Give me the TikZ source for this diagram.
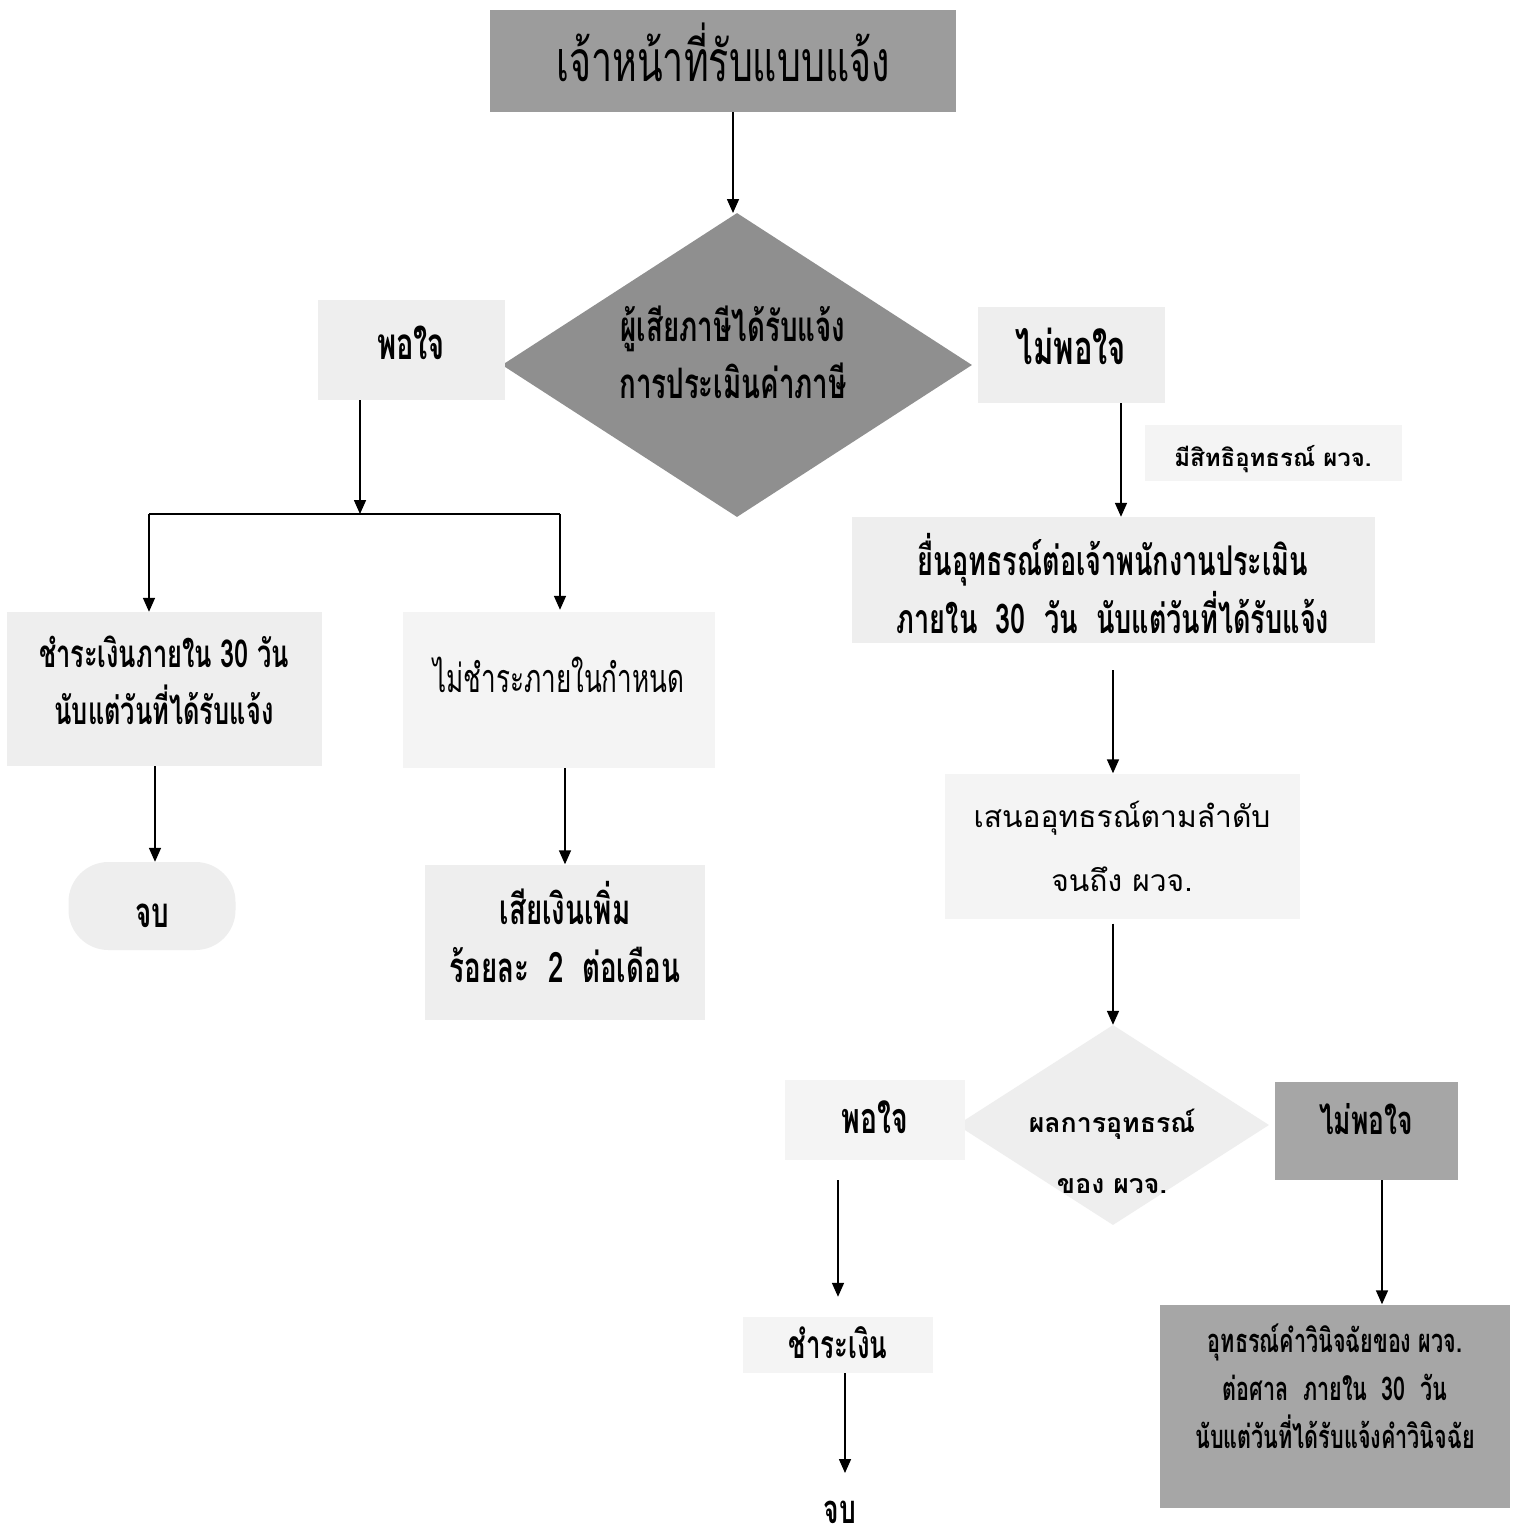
\documentclass[tikz,border=0pt]{standalone}
\usepackage{fontspec}
\usetikzlibrary{arrows.meta,shapes.geometric}
\newfontfamily\thC[Script=Thai,FakeStretch=0.66]{Loma}
\newfontfamily\thL[Script=Thai]{Loma}
\definecolor{gdark}{HTML}{9C9C9C}
\definecolor{gdia}{HTML}{8F8F8F}
\definecolor{gmid}{HTML}{A6A6A6}
\definecolor{glight}{HTML}{EEEEEE}
\definecolor{gpale}{HTML}{F4F4F4}
\tikzset{
  box/.style={rectangle, inner sep=0pt, align=center, text=black},
  arr/.style={line width=1.6pt, -{Triangle[length=14pt,width=12pt]}},
  ln/.style={line width=1.6pt},
}
\newcommand{\fs}[2]{\fontsize{#1}{#2}\selectfont}
\begin{document}
\begin{tikzpicture}[x=1pt,y=-1pt]
\useasboundingbox (0,0) rectangle (1520,1535);
\fill[white] (0,0) rectangle (1520,1535);
% top
\node[box, fill=gdark, minimum width=466pt, minimum height=102pt] (top) at (723,61) {};
\node[box, font=\thC\fs{57}{60}] (topt) at (723,52) {เจ้าหน้าที่รับแบบแจ้ง};
% decision 1
\node[diamond, fill=gdia, inner sep=0pt, minimum width=470pt, minimum height=304pt] (dia) at (737,365) {};
\node[box, font=\thC\bfseries\fs{42}{57}] (diat) at (733,352) {ผู้เสียภาษีได้รับแจ้ง\\การประเมินค่าภาษี};
\node[box, fill=glight, minimum width=187pt, minimum height=100pt] (ok1) at (411,350) {};
\node[box, font=\thC\bfseries\fs{44}{46}] (ok1t) at (411,343) {พอใจ};
\node[box, fill=glight, minimum width=187pt, minimum height=96pt] (nok1) at (1071,355) {};
\node[box, font=\thC\bfseries\fs{47}{50}] (nok1t) at (1071,346) {ไม่พอใจ};
\node[box, fill=gpale, minimum width=257pt, minimum height=56pt] (right) at (1273,453) {};
\node[box, font=\thL\bfseries\fs{24}{28}] (rightt) at (1273,459) {มีสิทธิอุทธรณ์ ผวจ.};
% left branch
\coordinate (j) at (360,514);
\coordinate (jl) at (149,514);
\coordinate (jr) at (560,514);
\node[box, fill=glight, minimum width=315pt, minimum height=154pt] (pay30) at (164,689) {};
\node[box, font=\thC\bfseries\fs{38.5}{57}] (pay30t) at (164,680) {ชำระเงินภายใน 30 วัน\\นับแต่วันที่ได้รับแจ้ง};
\node[box, fill=gpale, minimum width=312pt, minimum height=156pt] (nopay) at (559,690) {};
\node[box, font=\thC\fs{39.5}{42}] (nopayt) at (559,675) {ไม่ชำระภายในกำหนด};
\node[box, fill=glight, rounded corners=40pt, minimum width=167pt, minimum height=88pt] (end1) at (152,906) {};
\node[box, font=\thC\bfseries\fs{42}{44}] (end1t) at (152,916) {จบ};
\node[box, fill=glight, minimum width=280pt, minimum height=155pt] (sur) at (565,942) {};
\node[box, font=\thC\bfseries\fs{42}{58}] (surt) at (565,932) {เสียเงินเพิ่ม\\ร้อยละ~ 2~ ต่อเดือน};
% right branch
\node[box, fill=glight, minimum width=523pt, minimum height=126pt] (ap1) at (1113,580) {};
\node[box, font=\thC\bfseries\fs{41}{58}] (ap1t) at (1113,584)
  {ยื่นอุทธรณ์ต่อเจ้าพนักงานประเมิน\\ภายใน~ 30~ วัน~ นับแต่วันที่ได้รับแจ้ง};
\node[box, fill=gpale, minimum width=355pt, minimum height=145pt, font=\thL\fs{30}{64}] (ap2) at (1122,846)
  {เสนออุทธรณ์ตามลำดับ\\จนถึง ผวจ.};
\node[diamond, fill=glight, inner sep=0pt, minimum width=312pt, minimum height=200pt] (dia2) at (1113,1125) {};
\node[box, font=\thL\bfseries\fs{26.7}{61}] (dia2t) at (1112,1151) {ผลการอุทธรณ์\\ของ ผวจ.};
\node[box, fill=gpale, minimum width=180pt, minimum height=80pt] (ok2) at (875,1120) {};
\node[box, font=\thC\bfseries\fs{43}{45}] (ok2t) at (875,1117) {พอใจ};
\node[box, fill=gmid, minimum width=183pt, minimum height=98pt] (nok2) at (1366,1131) {};
\node[box, font=\thC\bfseries\fs{40}{42}] (nok2t) at (1366,1119) {ไม่พอใจ};
\node[box, fill=gpale, minimum width=190pt, minimum height=56pt] (pay) at (838,1345) {};
\node[box, font=\thC\bfseries\fs{39}{41}] (payt) at (838,1343) {ชำระเงิน};
\node[box, font=\thC\bfseries\fs{40}{42}] (end2) at (840,1512) {จบ};
\coordinate (end2in) at (845,1473);
\node[box, fill=gmid, minimum width=350pt, minimum height=203pt] (court) at (1335,1406) {};
\node[box, font=\thC\bfseries\fs{32.7}{48}] (courtt) at (1335,1386)
  {อุทธรณ์คำวินิจฉัยของ ผวจ.\\ต่อศาล~ ภายใน~ 30~ วัน\\นับแต่วันที่ได้รับแจ้งคำวินิจฉัย};
% connectors
\draw[arr] (top.south -| 733,0) -- (733,213);
\draw[arr] (ok1.south -| j) -- (j);
\draw[ln] (jl) -- (jr);
\draw[arr] (jl) -- (jl |- pay30.north);
\draw[arr] (jr) -- ([yshift=2pt]jr |- nopay.north);
\draw[arr] ([xshift=-9pt]pay30.south) -- ([xshift=3pt]end1.north);
\draw[arr] ([xshift=6pt]nopay.south) -- (sur.north);
\draw[arr] ([xshift=50pt]nok1.south) -- ([xshift=8pt]ap1.north);
\draw[arr] ([yshift=-27pt]ap1.south) -- ([xshift=-9pt]ap2.north);
\draw[arr] ([shift={(-9pt,-5pt)}]ap2.south) -- (dia2.north);
\draw[arr] ([shift={(-37pt,-20pt)}]ok2.south) -- ([yshift=20pt]pay.north);
\draw[arr] ([xshift=7pt]pay.south) -- (end2in);
\draw[arr] ([xshift=16pt]nok2.south) -- ([xshift=47pt]court.north);
\end{tikzpicture}
\end{document}
